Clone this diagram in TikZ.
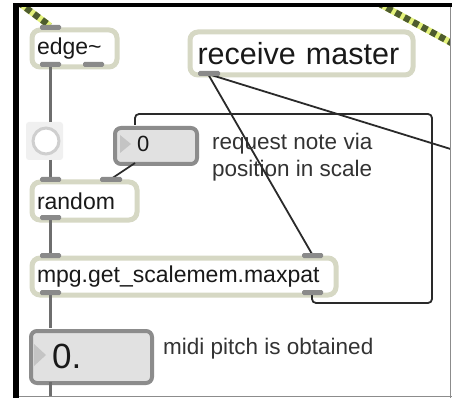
\documentclass[tikz,border=0pt]{standalone}
\usepackage{fontspec}
\setmainfont{Liberation Sans}
\definecolor{objedge}{HTML}{D6D8C4}
\definecolor{portgray}{HTML}{8A8A8A}
\definecolor{numfill}{HTML}{E1E1E1}
\definecolor{numedge}{HTML}{8C8C8C}
\definecolor{numtri}{HTML}{C4C4C4}
\definecolor{cordgray}{HTML}{6E6E6E}
\definecolor{cordblack}{HTML}{2A2A2A}
\definecolor{sigyellow}{HTML}{E4F27A}
\definecolor{sigdark}{HTML}{4E5C2E}
\definecolor{btnbg}{HTML}{F0F0F0}
\definecolor{btnring}{HTML}{CFCFCF}
\definecolor{commenttext}{HTML}{333333}
\begin{document}
\begin{tikzpicture}[x=1pt,y=-1pt,
  objbox/.style={draw=objedge, line width=5pt, fill=white, rounded corners=8pt,
    anchor=north west, inner xsep=5pt, inner ysep=0pt, align=left,
    font=\fontsize{23}{25}\selectfont, text=black!90},
  numbox/.style={draw=numedge, line width=4pt, fill=numfill, rounded corners=6pt,
    anchor=north west, inner sep=0pt},
  port/.style={fill=portgray, rounded corners=1.5pt},
  thincord/.style={draw=cordgray, line width=3pt},
  msgcord/.style={draw=cordblack, line width=1.8pt},
  sigbase/.style={draw=sigyellow, line width=6.5pt},
  sigdash/.style={draw=sigdark, line width=6.5pt, dash pattern=on 6pt off 4pt},
  comment/.style={anchor=base west, inner sep=0pt, text=commenttext,
    font=\fontsize{22.5}{26}\selectfont}
]
\useasboundingbox (0,0) rectangle (452,398);
\fill[white] (0,0) rectangle (452,398);

\begin{scope}
\clip (19,7) rectangle (450,396);

% ---- objects ----
\node[objbox, text width=75pt, minimum height=37pt] (edge) at (29.5,27.5) {edge\textasciitilde};
\node[objbox, text width=208pt, minimum height=43pt, inner xsep=7.5pt,
      font=\fontsize{30.5}{33}\selectfont] (rcv) at (187.5,29.5) {receive master};
\node[objbox, text width=95pt, minimum height=38pt] (rnd) at (29.5,179.5) {random};
\node[objbox, text width=294pt, minimum height=37pt] (mpg) at (29.5,255.5) {mpg.get\_scalemem.maxpat};

% toggle button
\fill[btnbg, rounded corners=3pt] (26,122) rectangle (63,160);
\node[circle, draw=btnring, line width=3pt, fill=white, minimum size=26pt, inner sep=0pt] (btn) at (46,141) {};

% number boxes
\node[numbox, minimum width=82pt, minimum height=36pt] (num) at (113,126) {};
\fill[numtri] (120,135) -- (131,144) -- (120,153) -- cycle;
\node[anchor=base west, inner sep=0pt, font=\fontsize{22}{24}\selectfont, text=black!90] (numval) at (137,152) {0};

\node[numbox, minimum width=121pt, minimum height=52pt] (pitch) at (29,329) {};
\fill[numtri] (34,344) -- (46,355) -- (34,366) -- cycle;
\node[anchor=base west, inner sep=0pt, font=\fontsize{35}{38}\selectfont, text=black!90] (pitchval) at (52,368) {0.};

% comments
\node[comment] (c1) at (212,150) {request note via};
\node[comment] (c2) at (212,176) {position in scale};
\node[comment] (c3) at (163,354) {midi pitch is obtained};

% ---- inlet / outlet positions ----
\coordinate (edgeIn) at (50,26);
\coordinate (edgeOut) at (50,66);
\coordinate (btnTop) at (50,122);
\coordinate (btnBot) at (50,160);
\coordinate (rndInL) at (50,178);
\coordinate (rndInR) at (111,179);
\coordinate (rndOut) at (50,219);
\coordinate (mpgInL) at (50,254);
\coordinate (mpgInR) at (312,254);
\coordinate (mpgOutL) at (50,294);
\coordinate (mpgOutR) at (312,294);
\coordinate (rcvOut) at (208,74);
\coordinate (numIn) at (135,125);
\coordinate (numOut) at (135,163);
\coordinate (pitchIn) at (50,328);
\coordinate (pitchOut) at (50,382);
\coordinate (sendA) at (10,-4);
\coordinate (offRight) at (470,155);
\coordinate (offBottom) at (50,400);
\coordinate (sigA) at (378,3);
\coordinate (sigB) at (470,53);

% ---- patch cords ----
\draw[thincord] (edgeOut) -- (btnTop);
\draw[thincord] (btnBot) -- (rndInL);
\draw[thincord] (rndOut) -- (mpgInL);
\draw[thincord] (mpgOutL) -- (pitchIn);
\draw[thincord] (pitchOut) -- (offBottom);
\draw[msgcord] (numOut) -- (rndInR);
\draw[msgcord] (rcvOut) -- (mpgInR);
\draw[msgcord] (rcvOut) -- (offRight);
\draw[msgcord, rounded corners=4pt] (mpgOutR) -- (312,303) -- (432,303) -- (432,114) -- (135,114) -- (numIn);

% signal cords
\draw[sigbase] (sendA) -- (edgeIn);
\draw[sigdash] (sendA) -- (edgeIn);
\draw[sigbase] (sigA) -- (sigB);
\draw[sigdash] (sigA) -- (sigB);

% ---- ports ----
\fill[port] (40,25) rectangle (61,30);
\fill[port] (40,62) rectangle (61,67);
\fill[port] (83,62) rectangle (104,67);
\fill[port] (198,71) rectangle (220,76);
\fill[port] (40,177) rectangle (61,182);
\fill[port] (100,177) rectangle (122,182);
\fill[port] (40,215) rectangle (61,220);
\fill[port] (40,253) rectangle (61,258);
\fill[port] (302,253) rectangle (323,258);
\fill[port] (40,290) rectangle (61,295);
\fill[port] (302,290) rectangle (323,295);
\end{scope}

% ---- frame ----
\fill[black] (13,3) rectangle (452,7);
\fill[black] (13,3) rectangle (19,398);
\draw[numedge, line width=1pt] (450.5,7) -- (450.5,398);
\draw[numedge, line width=1pt] (19,396.5) -- (452,396.5);
\end{tikzpicture}
\end{document}
